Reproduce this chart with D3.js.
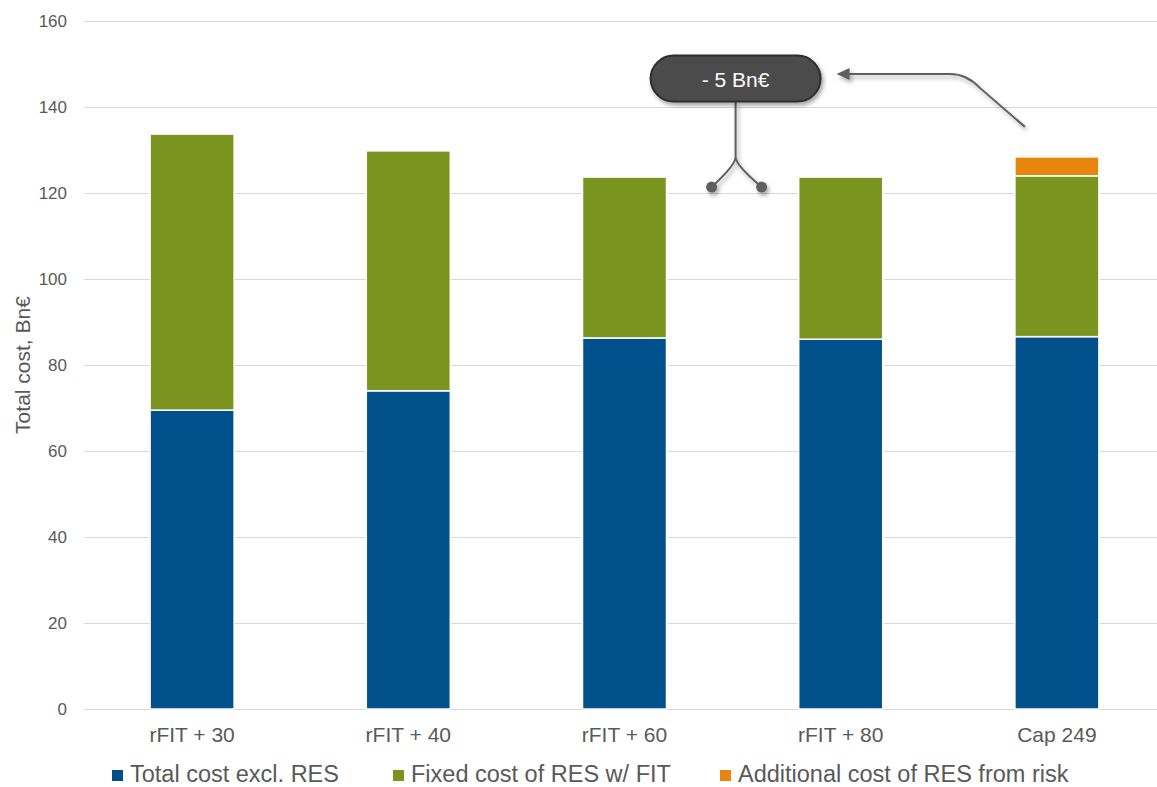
<!DOCTYPE html>
<html>
<head>
<meta charset="utf-8">
<script src="https://cdn.jsdelivr.net/npm/d3@7/dist/d3.min.js"></script>
<style>
  html, body { margin: 0; padding: 0; background: #ffffff; }
  svg { display: block; font-family: "Liberation Sans", Arial, sans-serif; }
</style>
</head>
<body>
<svg id="chart" width="1157" height="787"></svg>
<script>
// Scenario categories and stacked cost components (Bn€)
const categories = ["rFIT + 30", "rFIT + 40", "rFIT + 60", "rFIT + 80", "Cap 249"];
const totalCostExclRes = [69.5, 74.0, 86.3, 86.0, 86.6];
const fixedCostResFit = [64.2, 55.8, 37.4, 37.7, 37.4];
const additionalCostRisk = [0, 0, 0, 0, 4.4];
const yTicks = [0, 20, 40, 60, 80, 100, 120, 140, 160];
const seriesNames = ["Total cost excl. RES", "Fixed cost of RES w/ FIT", "Additional cost of RES from risk"];
const seriesColors = ["#00508c", "#7b931f", "#e8850f"];
const calloutText = "- 5 Bn€";

(function drawChart() {
  const svg = d3.select("#chart");
  const textColor = "#595959";

  const rows = categories.map((c, i) => ({
    category: c,
    s0: totalCostExclRes[i],
    s1: fixedCostResFit[i],
    s2: additionalCostRisk[i]
  }));
  const keys = ["s0", "s1", "s2"];
  const stacked = d3.stack().keys(keys)(rows);

  const plotLeft = 84, plotRight = 1165, plotTop = 21, plotBottom = 709;
  const pad = 0.6115;
  const x = d3.scaleBand().domain(categories).range([plotLeft, plotRight])
    .paddingInner(pad).paddingOuter(pad / 2);
  const y = d3.scaleLinear().domain([0, 160]).range([plotBottom, plotTop]);

  // drop shadow for callout graphics
  const defs = svg.append("defs");
  const f = defs.append("filter").attr("id", "shadow")
    .attr("x", "-20%").attr("y", "-40%").attr("width", "150%").attr("height", "200%");
  f.append("feDropShadow").attr("dx", 2).attr("dy", 3).attr("stdDeviation", 2)
    .attr("flood-color", "#000").attr("flood-opacity", 0.35);

  // gridlines
  svg.append("g").selectAll("line").data(yTicks).join("line")
    .attr("x1", plotLeft).attr("x2", 1157)
    .attr("y1", d => Math.round(y(d)) + 0.5).attr("y2", d => Math.round(y(d)) + 0.5)
    .attr("stroke", "#d9d9d9").attr("stroke-width", 1);

  // y tick labels
  svg.append("g").selectAll("text").data(yTicks).join("text")
    .attr("x", 67).attr("y", d => y(d))
    .attr("text-anchor", "end").attr("dominant-baseline", "central")
    .attr("fill", textColor).attr("font-size", 17)
    .text(d => d);

  // y axis title
  svg.append("text")
    .attr("transform", `translate(30, ${(plotTop + plotBottom) / 2}) rotate(-90)`)
    .attr("text-anchor", "middle")
    .attr("fill", textColor).attr("font-size", 21)
    .text("Total cost, Bn€");

  // stacked bars
  svg.append("g").selectAll("g").data(stacked).join("g")
    .attr("fill", (d, i) => seriesColors[i])
    .selectAll("rect").data(d => d.filter(p => p[1] - p[0] > 0)).join("rect")
    .attr("x", d => x(d.data.category))
    .attr("width", x.bandwidth())
    .attr("y", d => y(d[1]))
    .attr("height", d => y(d[0]) - y(d[1]))
    .attr("stroke", "#ffffff").attr("stroke-width", 1.5);

  // category labels
  svg.append("g").selectAll("text").data(categories).join("text")
    .attr("x", d => x(d) + x.bandwidth() / 2).attr("y", 742)
    .attr("text-anchor", "middle")
    .attr("fill", textColor).attr("font-size", 21)
    .text(d => d);

  // legend
  const legendX = [112, 393, 720];
  const lg = svg.append("g").selectAll("g").data(seriesNames).join("g")
    .attr("transform", (d, i) => `translate(${legendX[i]}, 0)`);
  lg.append("rect").attr("x", 0).attr("y", 770).attr("width", 11).attr("height", 11)
    .attr("fill", (d, i) => seriesColors[i]);
  lg.append("text").attr("x", 18).attr("y", 782)
    .attr("fill", textColor).attr("font-size", 23.5)
    .text(d => d);

  // callout: comparison between rFIT + 60 / rFIT + 80 and Cap 249
  const totals = rows.map(r => r.s0 + r.s1 + r.s2);
  const cx = (x(categories[2]) + x(categories[3]) + x.bandwidth()) / 2 + 3;
  const pillY = y(146.6);
  const arrowY = y(147.7);
  const pillW = 170, pillH = 46;
  const dotY = y(totals[2]) + 10;
  const conn = svg.append("g").attr("filter", "url(#shadow)");
  conn.append("path")
    .attr("d", `M${cx},${pillY + pillH / 2} L${cx},${dotY - 30}
                Q${cx},${dotY - 22} ${cx - 24},${dotY}
                M${cx},${dotY - 30} Q${cx},${dotY - 22} ${cx + 26},${dotY}`)
    .attr("fill", "none").attr("stroke", "#5f5f5f").attr("stroke-width", 2);
  conn.selectAll("circle").data([cx - 24, cx + 26]).join("circle")
    .attr("cx", d => d).attr("cy", dotY).attr("r", 5.5).attr("fill", "#5f5f5f");

  // arrow from Cap 249 back to the callout
  const ax0 = x(categories[4]) + x.bandwidth() / 2 - 32;
  const ay0 = y(totals[4]) - 30;
  const tipX = cx + pillW / 2 + 16;
  const arrowG = svg.append("g").attr("filter", "url(#shadow)");
  arrowG.append("path")
    .attr("d", `M${ax0},${ay0} L${ax0 - 45},${arrowY + 14} Q${ax0 - 58},${arrowY} ${ax0 - 75},${arrowY} L${tipX + 10},${arrowY}`)
    .attr("fill", "none").attr("stroke", "#5f5f5f").attr("stroke-width", 2);
  arrowG.append("path")
    .attr("d", `M${tipX},${arrowY} L${tipX + 13},${arrowY - 6} L${tipX + 13},${arrowY + 6} Z`)
    .attr("fill", "#5f5f5f");

  const pill = svg.append("g");
  pill.append("rect")
    .attr("x", cx - pillW / 2).attr("y", pillY - pillH / 2)
    .attr("width", pillW).attr("height", pillH)
    .attr("rx", pillH / 2).attr("ry", pillH / 2)
    .attr("fill", "#4b4b4b").attr("stroke", "#2e2e2e").attr("stroke-width", 2)
    .attr("filter", "url(#shadow)");
  pill.append("text")
    .attr("x", cx).attr("y", pillY + 8)
    .attr("text-anchor", "middle").attr("fill", "#ffffff").attr("font-size", 21)
    .text(calloutText);
})();
</script>
</body>
</html>
